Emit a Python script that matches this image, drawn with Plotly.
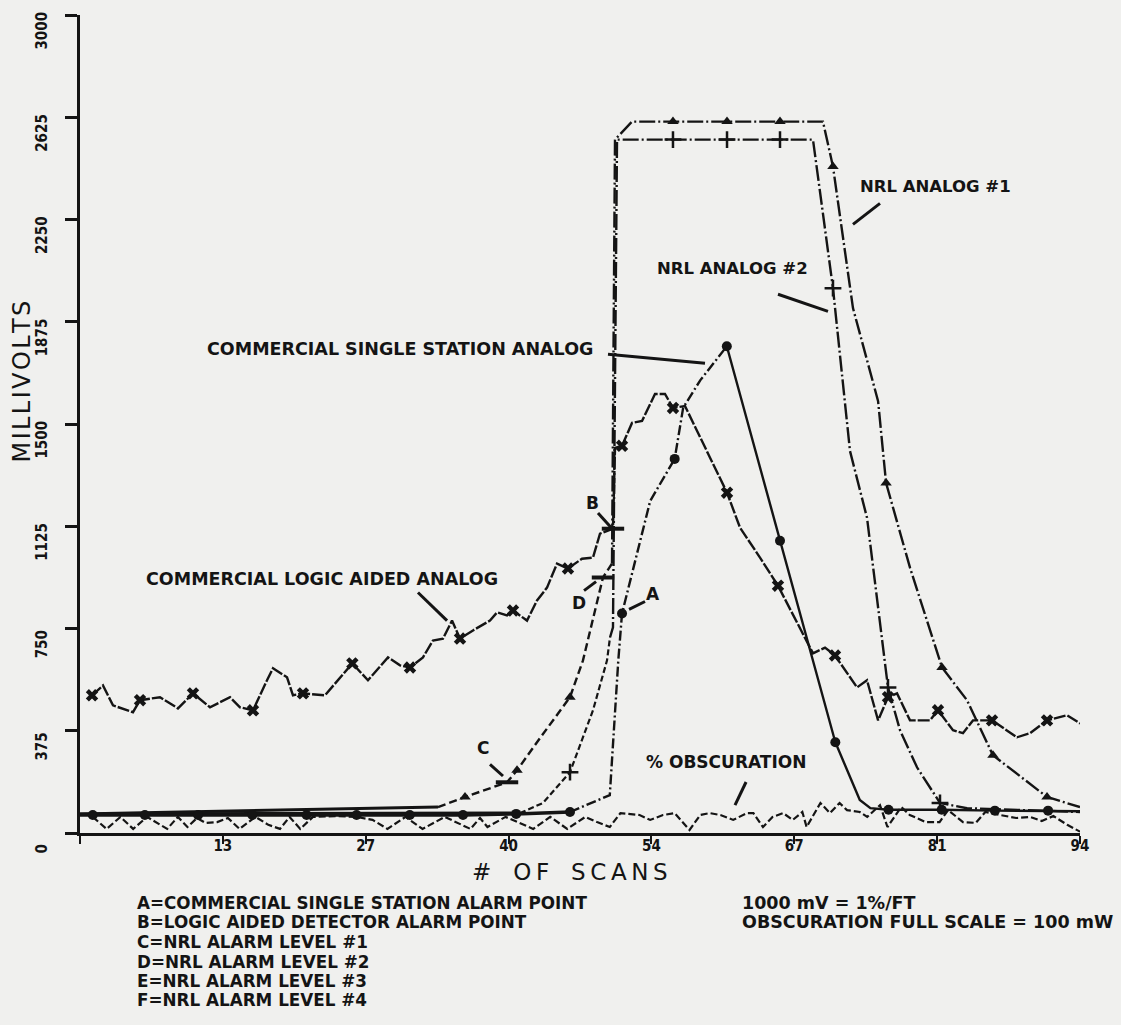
import plotly.graph_objects as go

# ---------------- data ----------------
x_tickvals = [0, 13.43, 26.86, 40.29, 53.71, 67.14, 80.57, 94]
x_ticktext = ["", "13", "27", "40", "54", "67", "81", "94"]
y_tickvals = [0, 375, 750, 1125, 1500, 1875, 2250, 2625, 3000]
y_ticktext = ["0", "375", "750", "1125", "1500", "1875", "2250", "2625", "3000"]

# NRL Analog #1 (triangles)
n1_scan = [0, 33.65, 36.19, 40.14, 41.08, 43.24, 46.06, 47.28, 49.16, 50.01, 50.29, 51.89,
           55.74, 60.82, 65.80, 69.84, 70.78, 72.66, 75.02, 75.77, 78.02, 81.03, 83.38,
           85.82, 90.90, 94]
n1_mv = [70, 95, 132, 186, 230, 348, 498, 633, 937, 988, 2543, 2609,
         2609, 2609, 2609, 2609, 2444, 1925, 1584, 1284, 973, 607, 487,
         285, 132, 95]
n1_marks = [36.19, 41.08, 46.06, 55.74, 60.82, 65.80, 70.78, 75.77, 81.03, 85.82, 90.90]

# NRL Analog #2 (plus signs)
n2_scan = [0, 41.36, 43.52, 46.06, 48.22, 49.54, 49.82, 50.10, 50.48, 55.74, 60.82, 65.80,
           68.90, 70.78, 72.38, 73.98, 75.95, 77.08, 78.68, 80.84, 83.38, 94]
n2_mv = [70, 73, 110, 223, 450, 633, 717, 754, 2543, 2543, 2543, 2543,
         2543, 1998, 1401, 1156, 534, 377, 241, 110, 91, 77]
n2_marks = [46.06, 55.74, 60.82, 65.80, 70.78, 75.95, 80.84]

# Commercial single station analog (circles)
ss_scan = [0, 1.2, 6.1, 11.1, 16.2, 21.3, 26.0, 31, 36, 41, 46.06, 49.8, 50.6, 50.95, 53.6,
           55.9, 56.7, 58.3, 60.8, 65.8, 71.0, 73.3, 74.3, 76, 81, 86, 91, 94]
ss_mv = [66, 66, 66, 66, 66, 66, 66, 66, 66, 70, 77, 139, 633, 805, 1218,
         1372, 1560, 1660, 1785, 1072, 333, 121, 91, 85, 85, 82, 82, 80]
ss_marks = [1.2, 6.1, 11.1, 16.2, 21.3, 26.0, 31, 36, 41, 46.06, 50.95, 55.9, 60.8, 65.8,
            71.0, 76, 81, 86, 91]

# Commercial logic aided analog (x marks)
la_scan = [1.13, 2.16, 3.10, 4.98, 5.64, 7.52, 9.21, 10.62, 12.22, 14.10, 15.04, 16.26, 17.58,
           18.14, 19.46, 20.02, 20.96, 23.03, 25.60, 27.07, 28.95, 30.08, 31.02, 32.24, 33.18,
           34.12, 34.97, 35.72, 36.94, 38.54, 39.20, 40.14, 40.70, 42.02, 42.96, 43.90, 44.84,
           45.87, 47.19, 48.22, 48.88, 50.10, 50.29, 50.95, 51.89, 52.83, 54.05, 54.99, 55.74,
           56.87, 60.82, 62.04, 63.92, 65.61, 68.90, 70.03, 70.97, 73.04, 73.98, 75.02, 75.95,
           76.80, 78.02, 79.90, 80.65, 82.06, 83.00, 83.94, 85.73, 88.08, 89.30, 90.90, 92.78, 94.0]
la_mv = [505, 541, 468, 443, 487, 498, 457, 512, 461, 498, 461, 450, 560,
         604, 571, 505, 512, 505, 622, 560, 644, 615, 607, 644, 706,
         713, 779, 713, 743, 779, 809, 798, 816, 779, 853, 900, 988,
         970, 1006, 1010, 1098, 1116, 1412, 1420, 1504, 1511, 1610, 1610, 1559,
         1566, 1248, 1120, 1010, 907, 659, 680, 651, 534, 560, 413, 498,
         512, 413, 413, 450, 377, 366, 413, 413, 351, 366, 413, 432, 402]
la_marks = [1.13, 5.64, 10.62, 16.26, 20.96, 25.60, 31.02, 35.72, 40.70, 45.87, 50.95, 55.74,
            60.82, 65.61, 70.97, 75.95, 80.65, 85.73, 90.90]

# % obscuration
ob_scan = [1.2, 2.5, 3.8, 5.0, 6.3, 8.2, 9.2, 10.1, 11.0, 11.8, 12.9, 13.9, 15.0, 16.5, 17.7,
           18.8, 19.7, 20.7, 21.9, 24.0, 26.0, 27.5, 28.9, 30.6, 32.2, 34.3, 36.7, 37.6, 38.3,
           40.0, 42.6, 44.2, 45.8, 47.5, 48.6, 49.8, 50.8, 52.6, 53.6, 54.8, 55.9, 57.3, 58.3,
           59.2, 60.2, 61.4, 62.7, 63.3, 64.2, 65.1, 66.1, 67.0, 67.9, 68.3, 69.6, 70.5, 71.4,
           72.1, 73.3, 74.0, 75.2, 75.9, 77.2, 78.0, 79.5, 80.8, 81.6, 83.0, 84.2, 85.1, 86.5,
           88.0, 89.3, 90.4, 91.5, 92.8, 94.0]
ob_mv = [59, 15, 59, 15, 59, 15, 59, 22, 55, 37, 40, 55, 15, 59, 30,
         15, 59, 15, 59, 62, 59, 48, 15, 59, 15, 59, 15, 55, 22,
         59, 15, 59, 15, 59, 40, 22, 73, 66, 48, 66, 73, 11, 66,
         73, 66, 48, 73, 73, 22, 59, 73, 48, 77, 22, 110, 73, 110,
         84, 77, 59, 102, 22, 95, 66, 40, 40, 84, 40, 37, 77, 66,
         55, 59, 44, 62, 30, 5]

# alarm points: (label, series, scan)
alarm_bars = [("C", "n1", 40.14), ("D", "n1", 49.16), ("B", "la", 50.10)]

# ---------------- styling ----------------
INK = "#141414"
BG = "#f0f0ee"
TICKF = "DejaVu Sans Condensed"
LABF = "DejaVu Sans"
TITF = "DejaVu Sans"
THIN = "\u2009"

series = {
    "n1": (n1_scan, n1_mv), "n2": (n2_scan, n2_mv), "ss": (ss_scan, ss_mv),
    "la": (la_scan, la_mv), "ob": (ob_scan, ob_mv),
}


def seg(key, lo, hi):
    xs, ys = series[key]
    pts = [(x, y) for x, y in zip(xs, ys) if lo <= x <= hi]
    return [p[0] for p in pts], [p[1] for p in pts]


def marks(key, mlist):
    xs, ys = series[key]
    pts = [(x, y) for x, y in zip(xs, ys) if x in mlist]
    return [p[0] for p in pts], [p[1] for p in pts]


fig = go.Figure()


def add_line(key, lo, hi, dash, width):
    x, y = seg(key, lo, hi)
    fig.add_trace(go.Scatter(x=x, y=y, mode="lines", cliponaxis=False,
                             line=dict(color=INK, width=width, dash=dash), hoverinfo="skip"))


# obscuration
add_line("ob", 0, 94, "7px,3px", 2.2)
# NRL #2
add_line("n2", 0, 41.36, "solid", 3)
add_line("n2", 41.36, 49.82, "6px,3px", 2.2)
add_line("n2", 49.82, 94, "16px,3px,2px,3px", 2.4)
# NRL #1
add_line("n1", 0, 33.65, "solid", 3)
add_line("n1", 33.65, 50.01, "8px,4px", 2.4)
add_line("n1", 50.01, 94, "16px,3px,2px,3px", 2.4)
# commercial single station
add_line("ss", 0, 46.06, "solid", 3.5)
add_line("ss", 46.06, 60.8, "10px,3px,2px,3px", 2.4)
add_line("ss", 60.8, 94, "solid", 2.4)
# logic aided
add_line("la", 0, 94, "12px,2px", 2.4)

# markers
for key, mlist, sym, size, lw in [
    ("ss", ss_marks, "circle", 10, 0),
    ("la", la_marks, "x", 11, 0),
    ("n1", n1_marks, "triangle-up", 10, 0),
    ("n2", n2_marks, "cross-thin", 12, 2.5),
]:
    x, y = marks(key, mlist)
    fig.add_trace(go.Scatter(x=x, y=y, mode="markers", cliponaxis=False, hoverinfo="skip",
                             marker=dict(symbol=sym, size=size, color=INK,
                                         line=dict(color=INK, width=lw))))

# alarm bars
bx, by = [], []
for lab, key, sc in alarm_bars:
    xs, ys = series[key]
    bx.append(sc)
    by.append(ys[xs.index(sc)])
fig.add_trace(go.Scatter(x=bx, y=by, mode="markers", hoverinfo="skip",
                         marker=dict(symbol="line-ew", size=16, color=INK,
                                     line=dict(color=INK, width=4))))

# ---------------- annotations ----------------
def label(text, x, y, size=17):
    fig.add_annotation(x=x, y=y, text=text, showarrow=False, xanchor="center", yanchor="middle",
                       font=dict(family=LABF, size=size, color=INK, weight="bold"))


def leader(x0, y0, x1, y1):
    fig.add_shape(type="line", x0=x0, y0=y0, x1=x1, y1=y1, line=dict(color=INK, width=3))


label("NRL ANALOG #1", 80.37, 2371, 16.5)
leader(72.66, 2232, 75.20, 2309)
label("NRL ANALOG #2", 61.29, 2071, 16.5)
leader(65.61, 1976, 70.31, 1913)
label("COMMERCIAL SINGLE STATION ANALOG", 30.08, 1774, 17.5)
leader(49.63, 1756, 58.75, 1723)
label("COMMERCIAL LOGIC AIDED ANALOG", 22.75, 933, 17.5)
leader(31.77, 882, 34.50, 779)
label("B", 48.22, 1211)
leader(48.69, 1174, 49.92, 1120)
label("D", 46.91, 845)
leader(47.38, 889, 48.51, 922)
label("A", 53.86, 878)
leader(51.61, 820, 53.11, 849)
label("C", 37.88, 311)
leader(38.54, 252, 39.76, 209)
label("% OBSCURATION", 60.73, 260, 17)
leader(61.57, 102, 62.61, 187)

# axis titles
x_title = "#   " + THIN.join("OF") + "   " + THIN.join("SCANS")
y_title = "\u200a".join("MILLIVOLTS")
fig.add_annotation(xref="paper", yref="paper", x=0.49, y=-0.0476, text=x_title,
                   showarrow=False, xanchor="center", yanchor="middle",
                   font=dict(family=TITF, size=23, color=INK))
fig.add_annotation(xref="paper", yref="paper", x=-0.058, y=0.552, text=y_title,
                   textangle=-90, showarrow=False, xanchor="center", yanchor="middle",
                   font=dict(family=TITF, size=24, color=INK))

# bottom notes
notes_left = ["A=COMMERCIAL SINGLE STATION ALARM POINT", "B=LOGIC AIDED DETECTOR ALARM POINT",
              "C=NRL ALARM LEVEL #1", "D=NRL ALARM LEVEL #2", "E=NRL ALARM LEVEL #3",
              "F=NRL ALARM LEVEL #4"]
notes_right = ["1000 mV = 1%/FT", "OBSCURATION FULL SCALE = 100 mW"]
rows_py = [903, 922, 942, 962, 981, 1000]
for i, t in enumerate(notes_left):
    fig.add_annotation(xref="paper", yref="paper", x=0.055, y=(833 - rows_py[i]) / 820, text=t,
                       showarrow=False, xanchor="left", yanchor="middle",
                       font=dict(family=LABF, size=16.8, color=INK, weight="bold"))
for i, t in enumerate(notes_right):
    fig.add_annotation(xref="paper", yref="paper", x=0.66, y=(833 - rows_py[i]) / 820, text=t,
                       showarrow=False, xanchor="left", yanchor="middle",
                       font=dict(family=LABF, size=17.5, color=INK, weight="bold"))

fig.update_layout(width=1121, height=1025, margin=dict(l=80, r=41, t=13, b=192),
                  paper_bgcolor=BG, plot_bgcolor=BG, showlegend=False)
fig.update_xaxes(range=[0, 94], showline=True, linecolor=INK, linewidth=2.5, ticks="outside",
                 ticklen=8, tickwidth=2, tickcolor=INK, tickvals=x_tickvals, ticktext=x_ticktext,
                 ticklabelstandoff=-11,
                 tickfont=dict(family=TICKF, size=15, color=INK, weight="bold"),
                 showgrid=False, zeroline=False)
fig.update_yaxes(range=[0, 3000], showline=True, linecolor=INK, linewidth=2.5, ticks="outside",
                 ticklen=12, tickwidth=2.5, tickcolor=INK, tickvals=y_tickvals, ticktext=y_ticktext,
                 tickangle=-90, ticklabelshift=18, ticklabelstandoff=12,
                 tickfont=dict(family=TICKF, size=15, color=INK, weight="bold"),
                 showgrid=False, zeroline=False)

fig.write_html("out.html", config={"displayModeBar": False},
               post_script="document.body.style.margin='0';")
